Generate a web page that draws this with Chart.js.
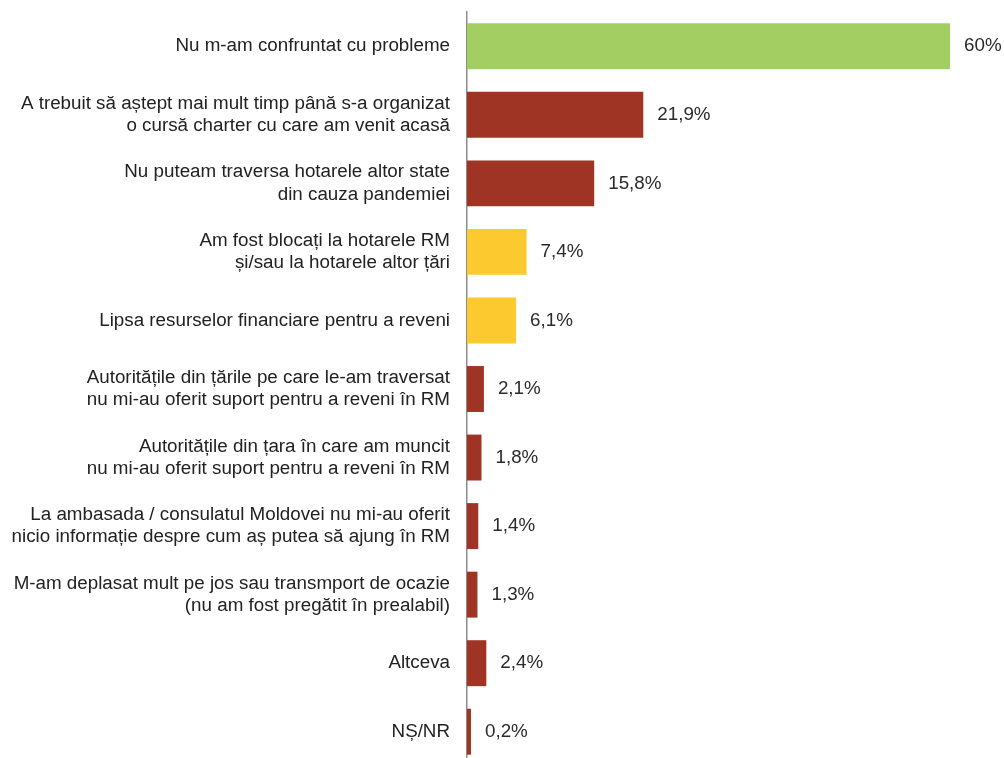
<!DOCTYPE html>
<html>
<head>
<meta charset="utf-8">
<script src="https://cdn.jsdelivr.net/npm/chart.js@4"></script>
<style>
  html, body { margin: 0; padding: 0; background: #fff; overflow: hidden; }
  #wrap { width: 1004px; height: 766px; position: relative; }
</style>
</head>
<body>
<div id="wrap"><canvas id="chart"></canvas></div>
<script>
// Data
const categories = [
    'Nu m-am confruntat cu probleme',
    ['A trebuit să aștept mai mult timp până s-a organizat', 'o cursă charter cu care am venit acasă'],
    ['Nu puteam traversa hotarele altor state', 'din cauza pandemiei'],
    ['Am fost blocați la hotarele RM', 'și/sau la hotarele altor țări'],
    'Lipsa resurselor financiare pentru a reveni',
    ['Autoritățile din țările pe care le-am traversat', 'nu mi-au oferit suport pentru a reveni în RM'],
    ['Autoritățile din țara în care am muncit', 'nu mi-au oferit suport pentru a reveni în RM'],
    ['La ambasada / consulatul Moldovei nu mi-au oferit', 'nicio informație despre cum aș putea să ajung în RM'],
    ['M-am deplasat mult pe jos sau transmport de ocazie', '(nu am fost pregătit în prealabil)'],
    'Altceva',
    'NȘ/NR'
];
const values = [60, 21.9, 15.8, 7.4, 6.1, 2.1, 1.8, 1.4, 1.3, 2.4, 0.2];
const groups = ['ok', 'red', 'red', 'yellow', 'yellow', 'red', 'red', 'red', 'red', 'red', 'red'];

const palette = { ok: '#a3cf62', red: '#9f3424', yellow: '#fcc92e' };

const FONT = "'Liberation Sans', Arial, sans-serif";
Chart.defaults.font.family = FONT;
Chart.defaults.font.size = 18.8;
Chart.defaults.color = '#222';

// Value labels to the right of each bar
const valueLabels = {
    id: 'valueLabels',
    afterDatasetsDraw(chart) {
        const ctx = chart.ctx;
        const meta = chart.getDatasetMeta(0);
        ctx.save();
        ctx.font = '18.8px ' + FONT;
        ctx.fillStyle = '#2a2a2a';
        ctx.textAlign = 'left';
        ctx.textBaseline = 'middle';
        meta.data.forEach((bar, i) => {
            const txt = String(values[i]).replace('.', ',') + '%';
            ctx.fillText(txt, Math.max(bar.x, chart.chartArea.left + 4) + 14, bar.y);
        });
        ctx.restore();
    }
};

new Chart(document.getElementById('chart'), {
    type: 'bar',
    data: {
        labels: categories,
        datasets: [{
            data: values,
            backgroundColor: groups.map(g => palette[g]),
            borderWidth: 0,
            categoryPercentage: 1,
            barPercentage: 0.67,
            minBarLength: 4
        }]
    },
    options: {
        indexAxis: 'y',
        responsive: true,
        maintainAspectRatio: false,
        animation: false,
        layout: { padding: { top: 12, right: 54, bottom: 0, left: 0 } },
        plugins: { legend: { display: false }, tooltip: { enabled: false } },
        scales: {
            x: { display: false, min: 0, max: 60 },
            y: {
                afterFit: s => { s.width = 467; s.paddingTop = 0; s.paddingBottom = 0; },
                grid: { display: false, drawTicks: false },
                border: { display: true, color: '#8c8c8c', width: 1.5 },
                ticks: { padding: 17, color: '#222', font: { size: 18.8, lineHeight: 1.18 } }
            }
        }
    },
    plugins: [valueLabels]
});
</script>
</body>
</html>
